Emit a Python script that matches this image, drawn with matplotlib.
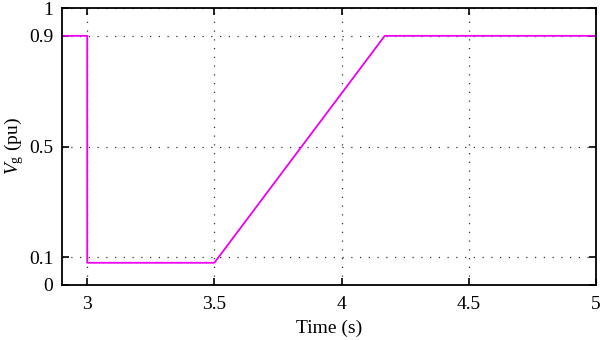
import matplotlib
matplotlib.use('Agg')
import matplotlib.pyplot as plt

# grid voltage profile (pu) vs time (s)
time = [2.9, 3.0, 3.0, 3.5, 4.17, 5.0]
vg = [0.9, 0.9, 0.08, 0.08, 0.9, 0.9]

xticks = [3, 3.5, 4, 4.5, 5]
xticklabels = ['3', '3.5', '4', '4.5', '5']
yticks = [0, 0.1, 0.5, 0.9, 1]
yticklabels = ['0', '0.1', '0.5', '0.9', '1']

plt.rcParams['font.family'] = ['Liberation Serif', 'DejaVu Serif']
plt.rcParams['mathtext.fontset'] = 'custom'
plt.rcParams['mathtext.rm'] = 'Liberation Serif'
plt.rcParams['mathtext.it'] = 'Liberation Serif:italic'

fig = plt.figure(figsize=(6, 3.4), dpi=100)
ax = fig.add_axes([0.103, 0.162, 0.890, 0.814])

ax.plot(time, vg, color='#ee00ee', linewidth=1.3)

ax.set_xlim(2.9, 5)
ax.set_ylim(0, 1)
ax.set_xticks(xticks)
ax.set_xticklabels(xticklabels)
ax.set_yticks(yticks)
ax.set_yticklabels(yticklabels)

ax.grid(True, color='#333333', linestyle=(0, (1, 6)), linewidth=0.9)
ax.tick_params(direction='in', length=5, width=1.2, top=True, right=True, labelsize=14)
ax.tick_params(axis='x', pad=8)
ax.tick_params(axis='y', pad=6)
for s in ax.spines.values():
    s.set_linewidth(1.3)

ax.set_xlabel('Time (s)', fontsize=14, labelpad=5)
ax.set_ylabel('$V_\\mathrm{g}$ (pu)', fontsize=14, labelpad=2)

fig.savefig('out.png', dpi=100)
